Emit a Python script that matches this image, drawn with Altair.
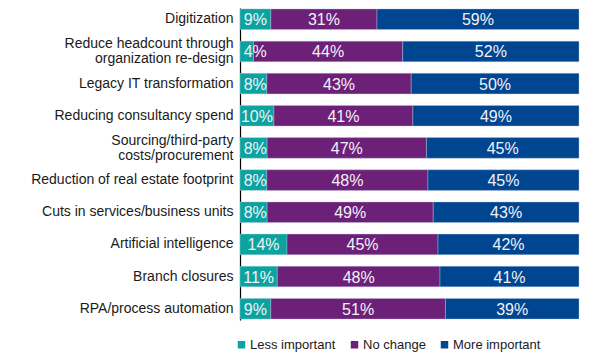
import altair as alt
import pandas as pd

categories = [
    "Digitization",
    "Reduce headcount through|organization re-design",
    "Legacy IT transformation",
    "Reducing consultancy spend",
    "Sourcing/third-party|costs/procurement",
    "Reduction of real estate footprint",
    "Cuts in services/business units",
    "Artificial intelligence",
    "Branch closures",
    "RPA/process automation",
]
less_important = [9, 4, 8, 10, 8, 8, 8, 14, 11, 9]
no_change = [31, 44, 43, 41, 47, 48, 49, 45, 48, 51]
more_important = [59, 52, 50, 49, 45, 45, 43, 42, 41, 39]
series = ["Less important", "No change", "More important"]
colors = ["#0AA39F", "#6D2077", "#00458F"]

rows = []
for i, cat in enumerate(categories):
    vals = [less_important[i], no_change[i], more_important[i]]
    total = sum(vals)
    start = 0
    for s, v in zip(series, vals):
        a = start / total * 100
        b = (start + v) / total * 100
        rows.append({"cat": cat, "series": s, "order": series.index(s),
                     "start": a, "end": b, "mid": max((a + b) / 2, 4.5),
                     "label": f"{v}%"})
        start += v
df = pd.DataFrame(rows)

font = "Liberation Sans"

y_enc = alt.Y("cat:N", sort=categories,
              scale=alt.Scale(paddingInner=0.36, paddingOuter=0.03),
              axis=alt.Axis(title=None, ticks=False, domain=True, domainColor="#000000",
                            domainWidth=1.2, labelFont=font, labelFontSize=14,
                            labelColor="#1a1a1a", labelPadding=7, labelLimit=300,
                            labelExpr="split(datum.label, '|')", labelLineHeight=15,
                            labelOffset={"condition": {"test": "indexof(datum.value, '|') >= 0",
                                                       "value": -7},
                                         "value": 0}))

bars = alt.Chart(df).mark_bar(stroke="#b8c4dc", strokeWidth=0.4).encode(
    y=y_enc,
    x=alt.X("start:Q", scale=alt.Scale(domain=[0, 100], nice=False), axis=None),
    x2="end:Q",
    color=alt.Color("series:N", sort=series,
                    scale=alt.Scale(domain=series, range=colors),
                    legend=alt.Legend(title=None, orient="none", legendX=-5, legendY=330,
                                      direction="horizontal", symbolType="square",
                                      symbolSize=56, symbolStrokeWidth=0,
                                      labelFont=font, labelFontSize=13,
                                      labelColor="#1a1a1a", labelOffset=2,
                                      columnPadding=12)),
    order="order:Q",
)

texts = alt.Chart(df).mark_text(font=font, fontSize=16, color="#f2f2fa",
                                baseline="middle", align="center", dy=1).encode(
    y=alt.Y("cat:N", sort=categories),
    x=alt.X("mid:Q"),
    text="label:N",
)

chart = alt.layer(bars, texts).properties(
    width=339, height=312,
    autosize=alt.AutoSizeParams(type="none"),
    padding={"left": 232, "top": 0, "right": 19, "bottom": 36},
).configure_view(stroke=None)

chart.save("out.html", embed_options={"renderer": "svg", "actions": False})
